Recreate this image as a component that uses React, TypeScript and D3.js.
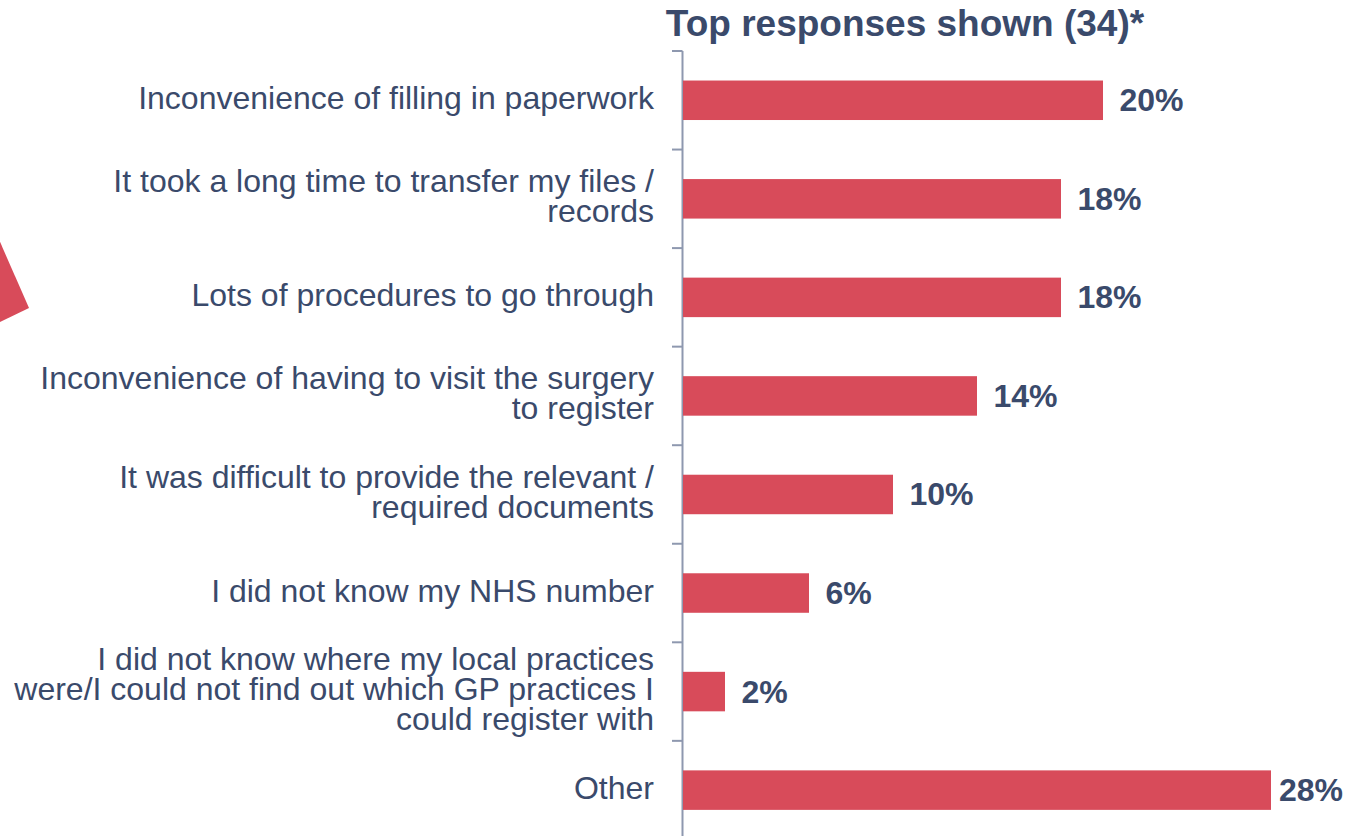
import React from "react";
import * as d3 from "d3";

const categories: string[] = [
  "Inconvenience of filling in paperwork",
  "It took a long time to transfer my files /\nrecords",
  "Lots of procedures to go through",
  "Inconvenience of having to visit the surgery\nto register",
  "It was difficult to provide the relevant /\nrequired documents",
  "I did not know my NHS number",
  "I did not know where my local practices\nwere/I could not find out which GP practices I\ncould register with",
  "Other",
];
const values: number[] = [20, 18, 18, 14, 10, 6, 2, 28];
const title = "Top responses shown (34)*";

const W = 1349;
const H = 836;
const FONT = "'Liberation Sans', Arial, Helvetica, sans-serif";
const NAVY = "#3A4A6B";
const RED = "#D84B5A";
const AXIS = "#8E98AF";

export default function App() {
  const axisX = 683;
  const y = d3
    .scaleBand<string>()
    .domain(categories)
    .range([51, 51 + 8 * 98.55])
    .paddingInner(0)
    .paddingOuter(0);
  const x = d3.scaleLinear().domain([0, 30]).range([axisX, axisX + 630]);
  const step = y.step();
  const barH = 39.5;
  const lineH = 30;
  const fs = 32;
  const valW = 64;

  const tickYs = [...categories.map((c) => y(c) as number), y.range()[1] as number];

  return (
    <svg
      width={W}
      height={H}
      style={{ position: "absolute", left: 0, top: 0, background: "#fff" }}
      fontFamily={FONT}
    >
      <polygon points="-60,105 29,308 -60,351" fill={RED} />
      <text x={905} y={36} textAnchor="middle" fontSize={37} fontWeight="bold" fill={NAVY}>
        {title}
      </text>
      <line x1={axisX - 0.5} x2={axisX - 0.5} y1={tickYs[0]} y2={H + 10} stroke={AXIS} strokeWidth={2} />
      {tickYs.map((t, i) => (
        <line key={"t" + i} x1={672} x2={axisX - 0.5} y1={t} y2={t} stroke={AXIS} strokeWidth={2} />
      ))}
      {categories.map((c, i) => {
        const cy = (y(c) as number) + step / 2;
        const lines = c.split("\n");
        const n = lines.length;
        const end = x(values[i]);
        const lx = Math.min(end + 16.5, W - 6 - valW);
        return (
          <g key={c}>
            <rect x={axisX} y={cy - barH / 2} width={end - axisX} height={barH} fill={RED} />
            <text x={lx} y={cy + 11} fontSize={fs} fontWeight="bold" fill={NAVY}>
              {values[i] + "%"}
            </text>
            <text textAnchor="end" fontSize={fs} fill={NAVY}>
              {lines.map((l, j) => (
                <tspan key={j} x={654} y={cy - 3 + 11.5 + (j - (n - 1) / 2) * lineH}>
                  {l}
                </tspan>
              ))}
            </text>
          </g>
        );
      })}
    </svg>
  );
}
